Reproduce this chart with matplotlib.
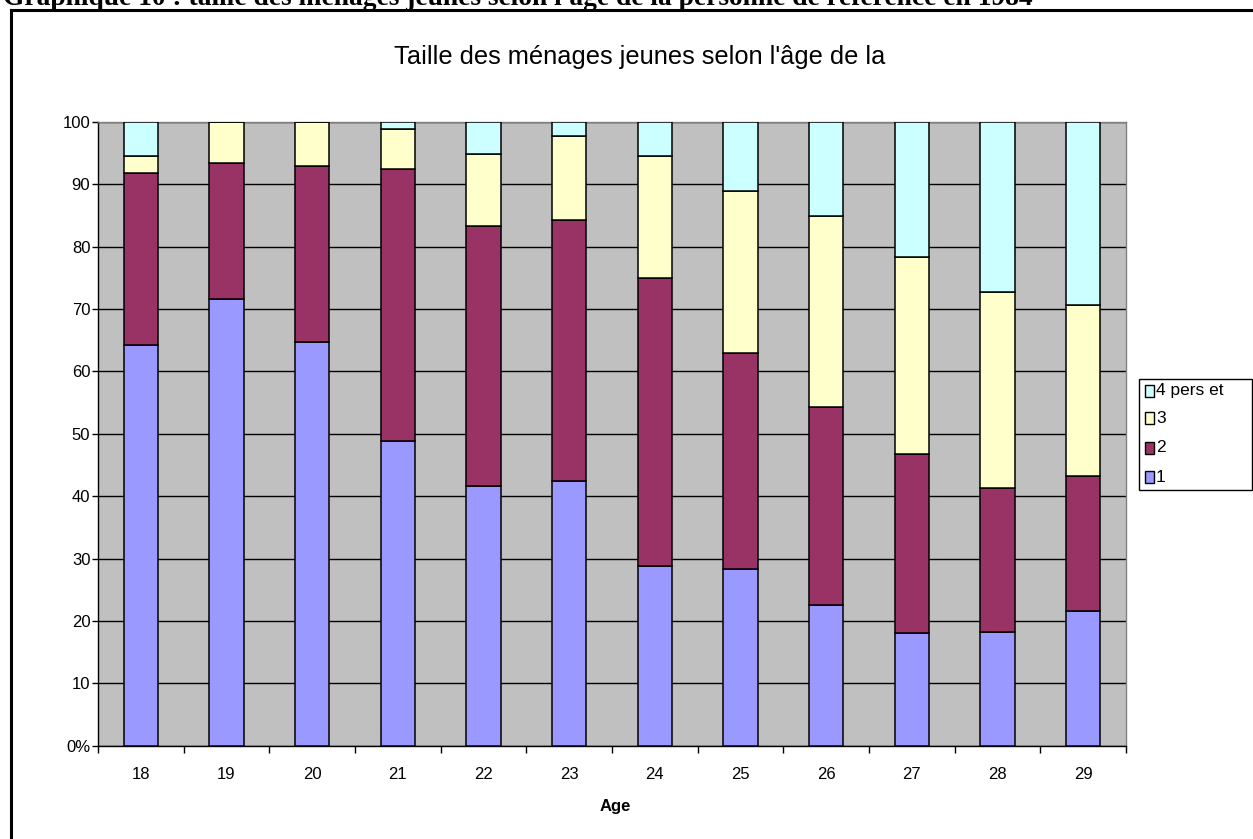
import matplotlib
matplotlib.use("Agg")
import matplotlib.pyplot as plt
from matplotlib.patches import Rectangle
from matplotlib.lines import Line2D
import numpy as np

# Household size shares (%) by age of the reference person, 1984
ages = ["18", "19", "20", "21", "22", "23", "24", "25", "26", "27", "28", "29"]
one_person = [64.2, 71.6, 64.7, 48.8, 41.7, 42.4, 28.75, 28.4, 22.6, 18.0, 18.2, 21.6]
two_persons = [27.6, 21.9, 28.2, 43.6, 41.6, 41.9, 46.2, 34.6, 31.7, 28.8, 23.05, 21.6]
three_persons = [2.8, 6.5, 7.1, 6.4, 11.6, 13.5, 19.55, 26.0, 30.6, 31.6, 31.45, 27.4]
four_plus = [5.4, 0.0, 0.0, 1.2, 5.1, 2.2, 5.5, 11.0, 15.1, 21.6, 27.3, 29.4]

series_labels = ["1", "2", "3", "4 pers et"]
series_colors = ["#9999FF", "#993366", "#FFFFCC", "#CCFFFF"]
y_tick_values = [0, 10, 20, 30, 40, 50, 60, 70, 80, 90, 100]
y_tick_labels = ["0%", "10", "20", "30", "40", "50", "60", "70", "80", "90", "100"]

W, H = 1253, 839
DPI = 100
fig = plt.figure(figsize=(W / DPI, H / DPI), dpi=DPI)
fig.patch.set_facecolor("white")

def fx(px):
    return px / W

def fy(py):
    return 1 - py / H

# plot area in pixels
L, R, T, B = 98, 1126, 122, 745.7
ax = fig.add_axes([fx(L), fy(B), fx(R - L), (B - T) / H])
ax.set_facecolor("#C0C0C0")

x = np.arange(len(ages))
bottom = np.zeros(len(ages))
series = [one_person, two_persons, three_persons, four_plus]
for vals, col, lab in zip(series, series_colors, series_labels):
    vals = np.asarray(vals)
    ax.bar(x, vals, width=0.4, bottom=bottom, color=col, edgecolor="black",
           linewidth=1.1, label=lab, zorder=3)
    bottom = bottom + vals

ax.set_xlim(-0.5, len(ages) - 0.5)
ax.set_ylim(0, 100)

# horizontal gridlines
ax.set_yticks(y_tick_values)
ax.set_yticklabels(y_tick_labels, fontsize=12, family="Liberation Sans")
ax.yaxis.grid(True, color="black", linewidth=1.0, zorder=1)
ax.set_axisbelow(True)
ax.tick_params(axis="y", direction="out", length=4, width=1.0, pad=1.5, colors="black")

# category labels at centres, tick marks at category boundaries
ax.set_xticks(x)
ax.set_xticklabels(ages, fontsize=12, family="Liberation Sans")
ax.tick_params(axis="x", which="major", length=0, pad=15.5)
ax.set_xticks(np.arange(-0.5, len(ages) + 0.5, 1.0), minor=True)
ax.tick_params(axis="x", which="minor", direction="out", length=5, width=1.0, color="black")

for side in ("left", "bottom"):
    ax.spines[side].set_color("black")
    ax.spines[side].set_linewidth(1.0)
for side in ("top", "right"):
    ax.spines[side].set_color("#808080")
    ax.spines[side].set_linewidth(1.0)

# axis title
fig.text(fx(615), fy(807), "Age", ha="center", va="center", fontsize=12,
         fontweight="bold", family="Liberation Sans")

# chart title
fig.text(fx(640), fy(64), "Taille des ménages jeunes selon l'âge de la",
         ha="center", va="baseline", fontsize=18.3, family="Liberation Sans")

# page heading, partly cut off by the top edge
fig.text(fx(3), fy(5), "Graphique 10 : taille des ménages jeunes selon l'âge de la personne de référence en 1984",
         ha="left", va="baseline", fontsize=19.8, fontweight="bold", family="Liberation Serif")

# outer frame (left and top edges)
fig.add_artist(Line2D([fx(11), fx(11)], [fy(10), fy(H + 5)], color="black", linewidth=2.2))
fig.add_artist(Line2D([fx(11), fx(W + 5)], [fy(10), fy(10)], color="black", linewidth=2.2))

# legend box
lx0, lx1, ly0, ly1 = 1139, 1252, 379, 490
fig.add_artist(Rectangle((fx(lx0), fy(ly1)), fx(lx1 - lx0), (ly1 - ly0) / H,
                         facecolor="white", edgecolor="black", linewidth=1.0))
entry_y = [477, 448, 418, 391]
for lab, col, ey in zip(series_labels, series_colors, entry_y):
    fig.add_artist(Rectangle((fx(1145), fy(ey + 6)), fx(9), 12 / H,
                             facecolor=col, edgecolor="black", linewidth=1.0))
    fig.text(fx(1156), fy(ey), lab, ha="left", va="center", fontsize=12.5,
             family="Liberation Sans")

fig.savefig("out.png", dpi=DPI)
